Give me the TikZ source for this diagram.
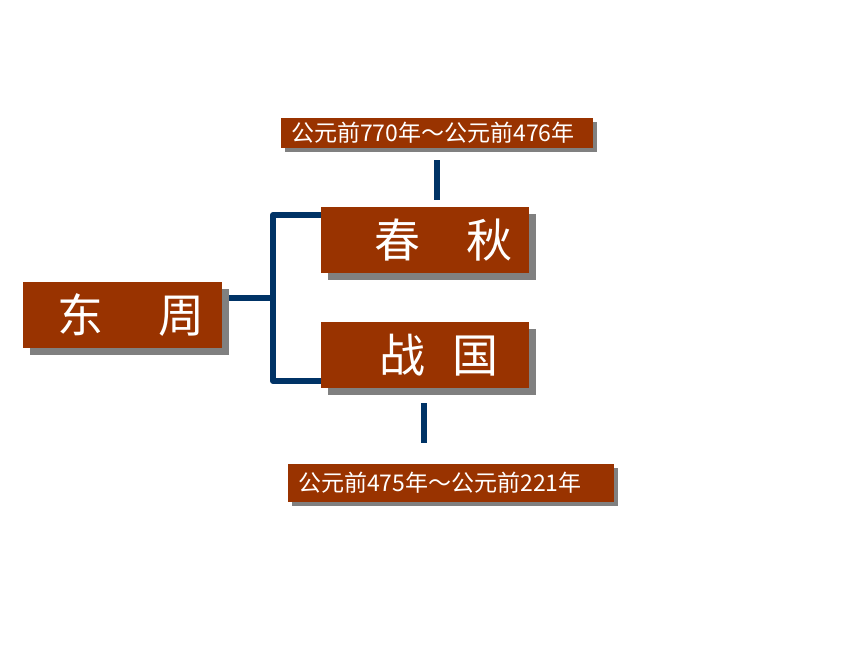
\documentclass[tikz,border=0pt]{standalone}
\usepackage{fontspec}
\newfontfamily\cjk{Noto Sans CJK SC}
\usetikzlibrary{shadows}
\pgfdeclarelayer{bg}
\pgfsetlayers{bg,main}
\definecolor{brick}{HTML}{993300}
\definecolor{navy}{HTML}{003366}
\tikzset{
    every node/.style={inner sep=0pt, text=white, font=\cjk},
    period/.style={fill=brick, minimum width=208pt, minimum height=66pt,
    	drop shadow={shadow xshift=7pt, shadow yshift=-7pt, fill=gray, opacity=1}},
    word/.style={anchor=west, font=\cjk\fontsize{46}{50}\selectfont},
    date/.style={fill=brick, inner xsep=10pt, align=left,
    	font=\cjk\fontsize{23}{26}\selectfont,
    	drop shadow={shadow xshift=4pt, shadow yshift=-4pt, fill=gray, opacity=1}},
    link/.style={draw=navy, line width=6pt, line join=round}
}

\begin{document}
\begin{tikzpicture}[x=1pt, y=-1pt]
  \useasboundingbox (0,0) rectangle (860,645);
  \node (p0) [period, minimum width=199pt] at (122.5,315) {};
  \node (p1) [period] at (425,240) {};
  \node (p2) [period] at (425,355) {};
  \node (w0) [word] at ([xshift=34pt]p0.west) {东\hspace{1.2em}周};
  \node (w1) [word] at ([xshift=53pt]p1.west) {春\hspace{1em}秋};
  \node (w2) [word] at ([xshift=58pt]p2.west) {战\hspace{0.6em}国};
  \node (d1) [date, text width=292pt, minimum height=30pt] at (437,133) {公元前770年～公元前476年};
  \node (d2) [date, text width=306pt, minimum height=38pt] at (451,483) {公元前475年～公元前221年};

  \coordinate (j0) at (273,298);
  \coordinate (j1) at (273,215);
  \coordinate (j2) at (273,381);
  \coordinate (t1) at (436.5,160);
  \coordinate (t2) at (436.5,200);
  \coordinate (b1) at (423.5,403);
  \coordinate (b2) at (423.5,443);

  \begin{pgfonlayer}{bg}
	  \draw[link] (p0.east |- j0) -- (j0);
	  \draw[link] (j1 -| p1.west) -- (j1) -- (j2) -- (j2 -| p2.west);
	  \draw[link] (t1) -- (t2); \draw[link] (b1) -- (b2);
  \end{pgfonlayer}

\end{tikzpicture}
\end{document}
